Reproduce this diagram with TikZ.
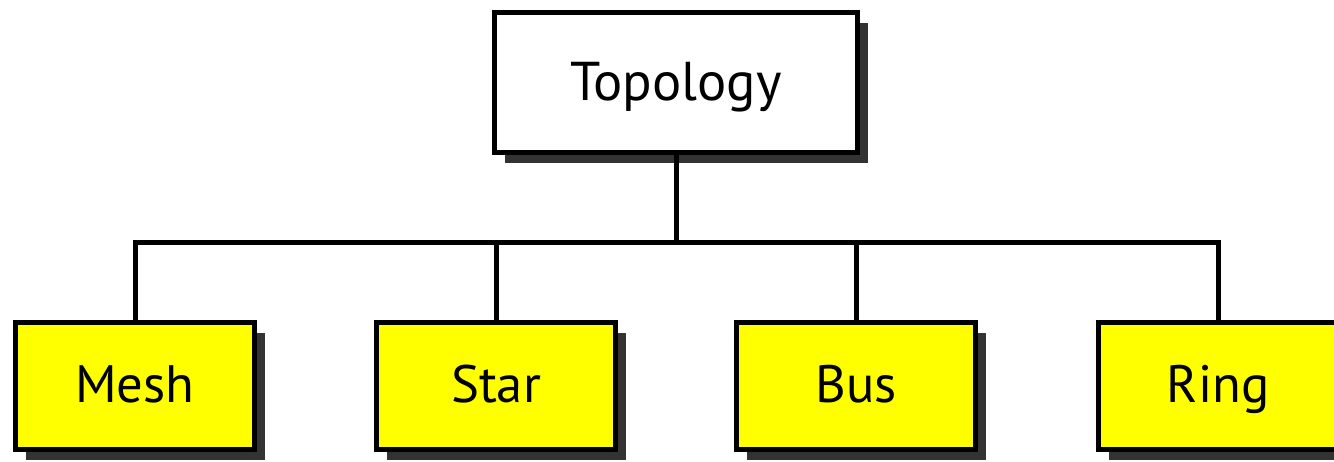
\documentclass[tikz,border=0pt]{standalone}
\usepackage{fontspec}
\setmainfont{PT Sans}
\usetikzlibrary{shadows}
\definecolor{shadowgray}{HTML}{333333}
\definecolor{boxyellow}{HTML}{FFFF00}
\begin{document}
\begin{tikzpicture}[x=0.75pt,y=-0.75pt,
  base/.style={draw=black, line width=3.75pt, rectangle, inner sep=0pt, text depth=0pt,
    drop shadow={shadow xshift=7.5pt, shadow yshift=-8pt, fill=shadowgray, opacity=1}},
  topbox/.style={base, fill=white, minimum width=272.25pt, minimum height=105pt,
    text height=26.25pt, font=\fontsize{41}{46}\selectfont},
  leafbox/.style={base, fill=boxyellow, minimum width=179.25pt, minimum height=95.25pt,
    text height=24pt, font=\fontsize{39.5}{44}\selectfont},
  conn/.style={line width=3.75pt, line cap=rect}]
\useasboundingbox (0,0) rectangle (1334,461);
\clip (0,0) rectangle (1334,461);
\node[topbox] (top) at (676,82.5) {Topology};
\node[leafbox] (mesh) at (135,386) {Mesh};
\node[leafbox] (star) at (496,386) {Star};
\node[leafbox] (bus) at (856,386) {Bus};
\node[leafbox] (ring) at (1218,386) {Ring};
\coordinate (j) at (676,242.5);
\draw[conn] (top.south) -- (j);
\draw[conn] (mesh.north) |- (j) -| (ring.north);
\draw[conn] (star.north) -- (star.north |- j);
\draw[conn] (bus.north) -- (bus.north |- j);
\end{tikzpicture}
\end{document}
